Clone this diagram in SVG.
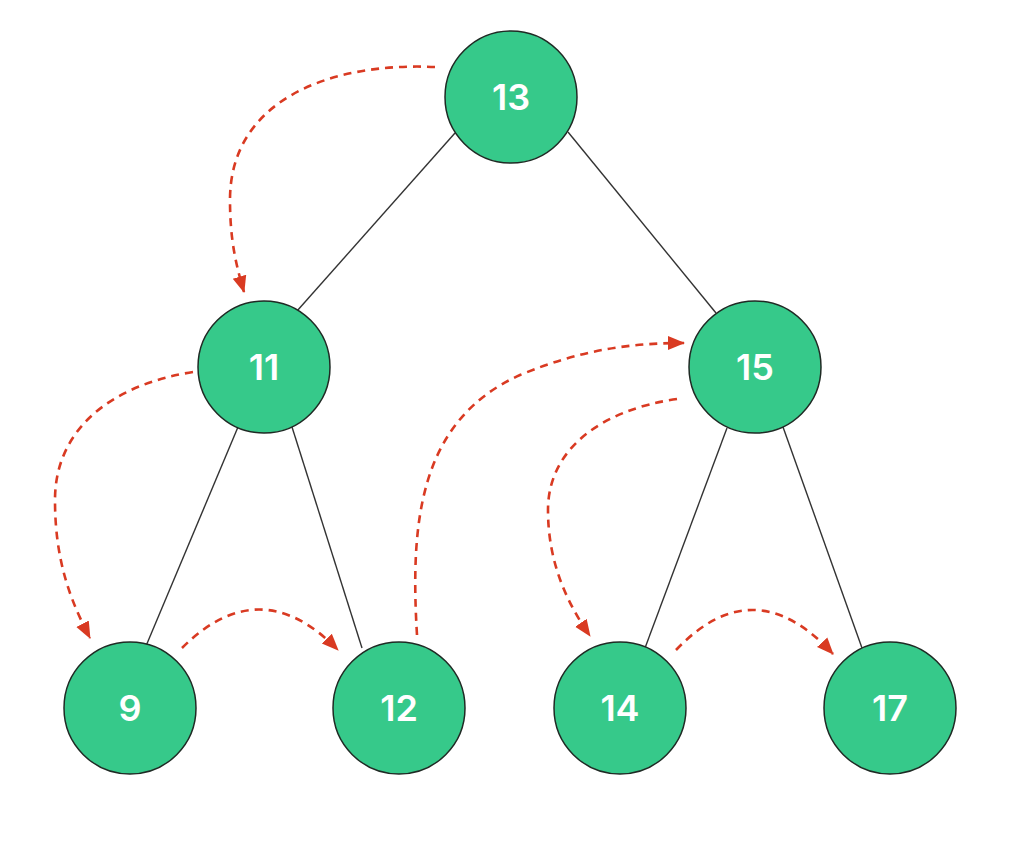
<svg xmlns="http://www.w3.org/2000/svg" width="1024" height="846" viewBox="0 0 1024 846">
<defs>
<style>
.node circle{fill:#36c98a;stroke:#1f2a24;stroke-width:1.5}
.node text{fill:#fff;font-family:Inter,"Open Sans","Liberation Sans",sans-serif;font-weight:600;font-size:36px;text-anchor:middle;dominant-baseline:central}
.edge{stroke:#333;stroke-width:1.4;fill:none}
.trav{stroke:#d93a22;stroke-width:2.6;fill:none;stroke-dasharray:8 6;marker-end:url(#arr)}
</style>
<marker id="arr" markerUnits="userSpaceOnUse" markerWidth="18" markerHeight="18" viewBox="0 0 18 18" refX="16" refY="9" orient="auto">
<path d="M0,2 L17,9 L0,16 Z" fill="#d93a22"/>
</marker>
</defs>
<rect width="1024" height="846" fill="#fff"/>
<g id="edges">
<line class="edge" x1="455" y1="133" x2="297" y2="311"/>
<line class="edge" x1="568" y1="132" x2="716" y2="313"/>
<line class="edge" x1="238" y1="427" x2="146" y2="646"/>
<line class="edge" x1="292" y1="427" x2="362" y2="648"/>
<line class="edge" x1="727" y1="428" x2="645" y2="648"/>
<line class="edge" x1="783" y1="427" x2="862" y2="648"/>
</g>
<g id="traversal">
<path class="trav" d="M435,67 C330,62 230,100 230,200 C230,240 236,265 244,292"/>
<path class="trav" d="M193,372 C110,385 55,430 55,500 C55,560 70,600 90,638"/>
<path class="trav" d="M182,648 Q260,570 338,650"/>
<path class="trav" d="M417,635 C410,520 420,420 520,375 C580,350 630,343 684,343"/>
<path class="trav" d="M677,399 C600,410 548,450 548,510 C548,560 565,600 590,636"/>
<path class="trav" d="M676,650 Q754,568 833,654"/>
</g>
<g id="n13" class="node"><circle cx="511" cy="97" r="66"/><text x="511" y="97">13</text></g>
<g id="n11" class="node"><circle cx="264" cy="367" r="66"/><text x="264" y="367">11</text></g>
<g id="n15" class="node"><circle cx="755" cy="367" r="66"/><text x="755" y="367">15</text></g>
<g id="n9" class="node"><circle cx="130" cy="708" r="66"/><text x="130" y="708">9</text></g>
<g id="n12" class="node"><circle cx="399" cy="708" r="66"/><text x="399" y="708">12</text></g>
<g id="n14" class="node"><circle cx="620" cy="708" r="66"/><text x="620" y="708">14</text></g>
<g id="n17" class="node"><circle cx="890" cy="708" r="66"/><text x="890" y="708">17</text></g>
</svg>
